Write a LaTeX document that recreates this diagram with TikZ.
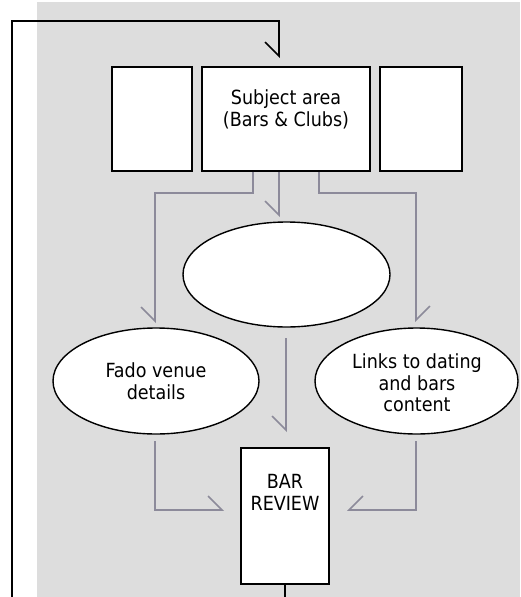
\documentclass[tikz,border=0pt]{standalone}
\usepackage{fontspec}
\setmainfont{DejaVu Sans Condensed}
\usetikzlibrary{arrows.meta,shapes.geometric}
\definecolor{panel}{HTML}{DDDDDD}
\definecolor{flow}{HTML}{8C8A9A}
\tikzset{
  card/.style={draw=black, line width=1.6pt, fill=white, inner sep=0pt},
  oval/.style={draw=black, line width=1.4pt, fill=white, ellipse, inner sep=0pt},
  txt/.style={align=center, inner sep=0pt, font=\fontsize{19.5}{22}\selectfont},
  flowline/.style={draw=flow, line width=1.8pt},
  loopline/.style={draw=black, line width=1.8pt},
  barbL/.style={-{Straight Barb[harpoon,length=14pt,width=28pt,line width=1.6pt]}},
  barbR/.style={-{Straight Barb[harpoon,swap,length=14pt,width=28pt,line width=1.6pt]}},
}
\begin{document}
\begin{tikzpicture}[x=1pt,y=-1pt]
\useasboundingbox (0,0) rectangle (520,597);
% shaded panel
\fill[panel] (37,2) rectangle (520,597);

% top row of cards
\node[card, minimum width=80pt, minimum height=104pt] (leftcard) at (152,119) {};
\node[card, minimum width=168pt, minimum height=104pt] (subject) at (286,119) {};
\node[card, minimum width=82pt, minimum height=104pt] (rightcard) at (421,119) {};
\node[txt] (subjtext) at (286,109) {Subject area\\(Bars \& Clubs)};

% ellipses
\node[oval, minimum width=207pt, minimum height=105pt] (mid) at (286.5,274.5) {};
\node[oval, minimum width=206pt, minimum height=106pt] (fado) at (156,381) {};
\node[txt] (fadotext) at (156,381) {Fado venue\\details};
\node[oval, minimum width=203pt, minimum height=106pt] (links) at (416.5,381) {};
\node[txt, font=\fontsize{19.5}{21.5}\selectfont] (linkstext) at (417,383) {Links to dating\\and bars\\content};

% review box
\node[card, minimum width=88pt, minimum height=136pt] (review) at (285,516) {};
\node[txt] (reviewtext) at (285,492) {BAR\\REVIEW};

% grey flows
\coordinate (toFado) at (155,323);
\coordinate (toMid) at (279,217);
\coordinate (toLinks) at (416,322);
\draw[flowline, barbR] (subject.south -| 253,0) -- (253,193) -- (155,193) -- (toFado);
\draw[flowline, barbR] (subject.south -| 279,0) -- (toMid);
\draw[flowline, barbL] (subject.south -| 319,0) -- (319,193) -- (416,193) -- (toLinks);

\coordinate (midstart) at (286,338);
\coordinate (midend) at (286,432);
\draw[flowline, barbR] (midstart) -- (midend);

\coordinate (fadostart) at (155,441);
\coordinate (fadoend) at (224,510);
\draw[flowline, barbL] (fadostart) -- (155,510) -- (fadoend);

\coordinate (linkstart) at (416,441);
\coordinate (linkend) at (347,510);
\draw[flowline, barbR] (linkstart) -- (416,510) -- (linkend);

% feedback loop back to the subject area
\coordinate (loopfoot) at (12,597);
\coordinate (looptip) at (279,58);
\draw[loopline] (review.south) -- (review.south |- loopfoot);
\draw[loopline, barbR] (loopfoot) -- (12,21) -- (279,21) -- (looptip);
\end{tikzpicture}
\end{document}
